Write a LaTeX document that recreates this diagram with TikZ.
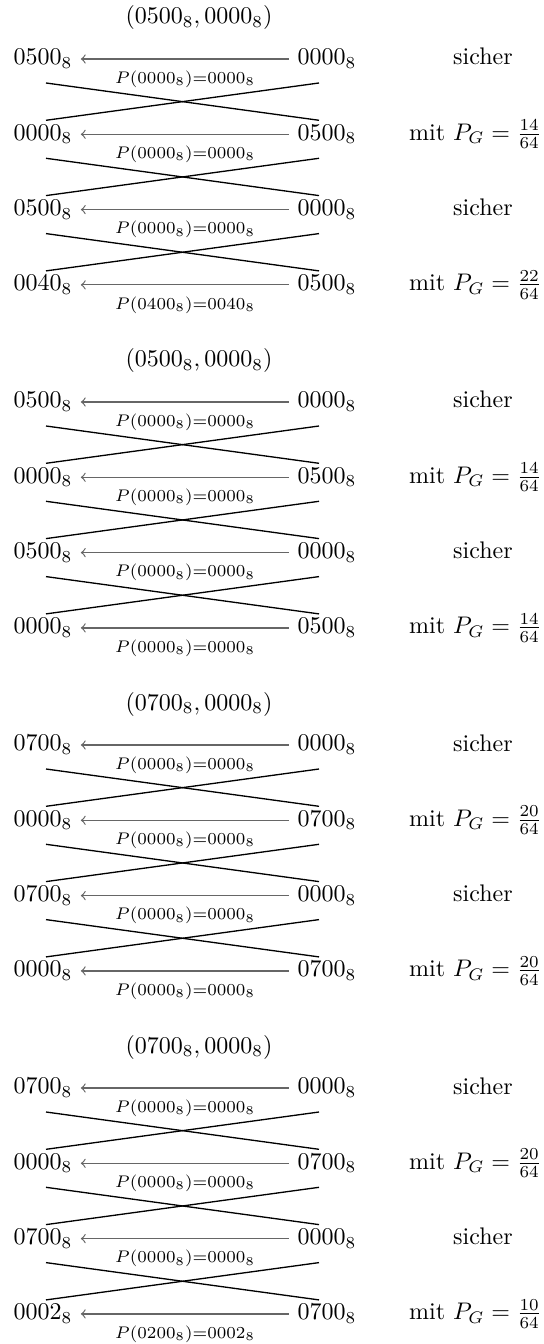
\documentclass[tikz,border=0pt]{standalone}
\begin{document}
\begin{tikzpicture}[x=0.41667pt,y=-0.41667pt,
  state/.style={inner sep=3.33pt},
  trans/.style={<-, draw=black!60, line width=0.5pt},
  lab/.style={midway, yshift=-8.3pt, inner sep=0pt},
  crossline/.style={draw=black, line width=0.55pt},
  verdict/.style={anchor=base, inner sep=0pt},
  prob/.style={anchor=base east, inner sep=0pt},
  heading/.style={inner sep=0pt}]
\useasboundingbox (0,0) rectangle (544,1344);

\foreach \b/\t in {0/0500, 1/0500, 2/0700, 3/0700}{
  \node[heading] (title-\b) at (199,{18+343*\b}) {$(\t_8, 0000_8)$};
}

\foreach \b/\r/\lt/\rt/\pin/\pout in {
 0/0/0500/0000/0000/0000, 0/1/0000/0500/0000/0000, 0/2/0500/0000/0000/0000, 0/3/0040/0500/0400/0040,
 1/0/0500/0000/0000/0000, 1/1/0000/0500/0000/0000, 1/2/0500/0000/0000/0000, 1/3/0000/0500/0000/0000,
 2/0/0700/0000/0000/0000, 2/1/0000/0700/0000/0000, 2/2/0700/0000/0000/0000, 2/3/0000/0700/0000/0000,
 3/0/0700/0000/0000/0000, 3/1/0000/0700/0000/0000, 3/2/0700/0000/0000/0000, 3/3/0002/0700/0200/0002}
{
  \node[state] (L-\b-\r) at (43,{59+343*\b+75.3*\r}) {$\lt_8$};
  \node[state] (R-\b-\r) at (327,{59+343*\b+75.3*\r}) {$\rt_8$};
  \draw[trans] (L-\b-\r) -- node[lab] (lab-\b-\r) {$\scriptstyle P(\pin_8)=\pout_8$} (R-\b-\r);
}

\foreach \b in {0,...,3}{
  \foreach \r in {0,2}{
    \node[verdict] (V-\b-\r) at (483,{59+343*\b+75.3*\r+6}) {sicher};
  }
}
\foreach \b/\r/\n in {0/1/14, 0/3/22, 1/1/14, 1/3/14, 2/1/20, 2/3/20, 3/1/20, 3/3/10}{
  \node[prob] (V-\b-\r) at (542,{59+343*\b+75.3*\r+6}) {mit $P_G = \frac{\n}{64}$};
}

\foreach \b in {0,...,3}{
  \foreach \r in {0,1,2}{
    \coordinate (ctl-\b-\r) at (46,{59+343*\b+75.3*\r+24});
    \coordinate (ctr-\b-\r) at (319,{59+343*\b+75.3*\r+24});
    \coordinate (cbl-\b-\r) at (46,{59+343*\b+75.3*\r+61.3});
    \coordinate (cbr-\b-\r) at (319,{59+343*\b+75.3*\r+61.3});
    \draw[crossline] (ctl-\b-\r) -- (cbr-\b-\r);
    \draw[crossline] (cbl-\b-\r) -- (ctr-\b-\r);
  }
}
\end{tikzpicture}
\end{document}
